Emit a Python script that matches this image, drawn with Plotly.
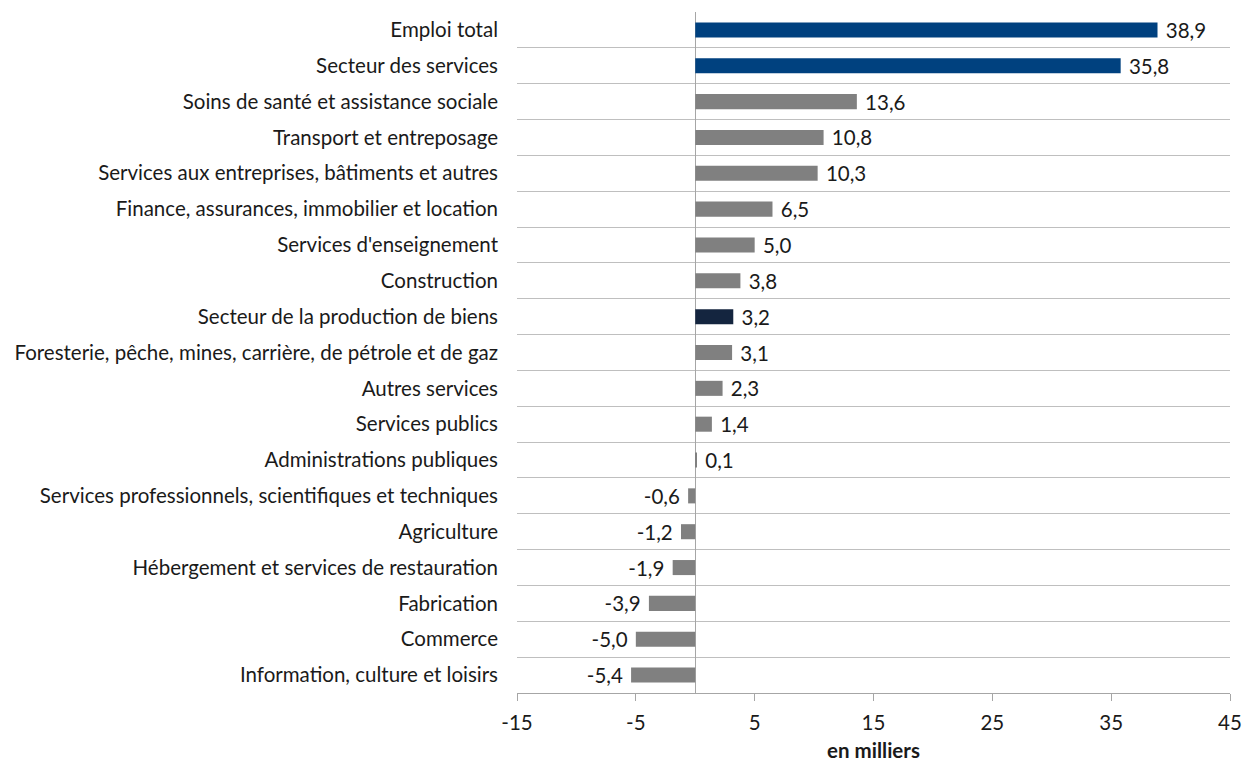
import plotly.graph_objects as go

categories = [
    "Emploi total",
    "Secteur des services",
    "Soins de santé et assistance sociale",
    "Transport et entreposage",
    "Services aux entreprises, bâtiments et autres",
    "Finance, assurances, immobilier et location",
    "Services d'enseignement",
    "Construction",
    "Secteur de la production de biens",
    "Foresterie, pêche, mines, carrière, de pétrole et de gaz",
    "Autres services",
    "Services publics",
    "Administrations publiques",
    "Services professionnels, scientifiques et techniques",
    "Agriculture",
    "Hébergement et services de restauration",
    "Fabrication",
    "Commerce",
    "Information, culture et loisirs",
]
values = [38.9, 35.8, 13.6, 10.8, 10.3, 6.5, 5.0, 3.8, 3.2, 3.1, 2.3, 1.4, 0.1,
          -0.6, -1.2, -1.9, -3.9, -5.0, -5.4]
x_ticks = [-15, -5, 5, 15, 25, 35, 45]
x_tick_labels = [str(t) for t in x_ticks]
value_labels = [(" " + f"{v:.1f}".replace(".", ",")) if v >= 0
                else (f"{v:.1f}".replace(".", ",") + " ") for v in values]

BLUE = "#00417F"
NAVY = "#14253F"
GRAY = "#808080"
colors = [BLUE if c in ("Emploi total", "Secteur des services")
          else NAVY if c == "Secteur de la production de biens"
          else GRAY for c in categories]

FONT = "Lato"
FS = 20.5

fig = go.Figure(go.Bar(
    x=values, y=categories, orientation="h",
    marker=dict(color=colors, line=dict(width=0)),
    width=0.42,
    text=value_labels, textposition="outside", constraintext="none",
    textfont=dict(family=FONT, size=FS, color="#1a1a1a"),
    cliponaxis=False,
))

fig.update_layout(
    width=1243, height=762,
    margin=dict(l=517, r=13, t=12, b=69, autoexpand=False),
    paper_bgcolor="white", plot_bgcolor="white",
    showlegend=False,
    font=dict(family=FONT, size=FS, color="#1a1a1a"),
    xaxis=dict(
        range=[-15, 45], tickvals=x_ticks, ticktext=x_tick_labels,
        showgrid=False, zeroline=True, zerolinecolor="#A6A6A6", zerolinewidth=1,
        showline=True, linecolor="#A6A6A6", linewidth=1,
        ticks="outside", ticklen=7, tickcolor="#A6A6A6",
        tickfont=dict(family=FONT, size=FS), ticklabelstandoff=4,
        automargin=False,
        title=dict(text="<b>en milliers</b>", font=dict(family=FONT, size=20.5), standoff=22),
    ),
    yaxis=dict(
        type="category", autorange="reversed", automargin=False,
        tickson="boundaries", showgrid=True, gridcolor="#BFBFBF", gridwidth=1,
        ticks="", ticklabelstandoff=18,
        tickfont=dict(family=FONT, size=FS),
    ),
)

fig.write_html("out.html", config={"displayModeBar": False},
               post_script="document.body.style.margin='0';")
